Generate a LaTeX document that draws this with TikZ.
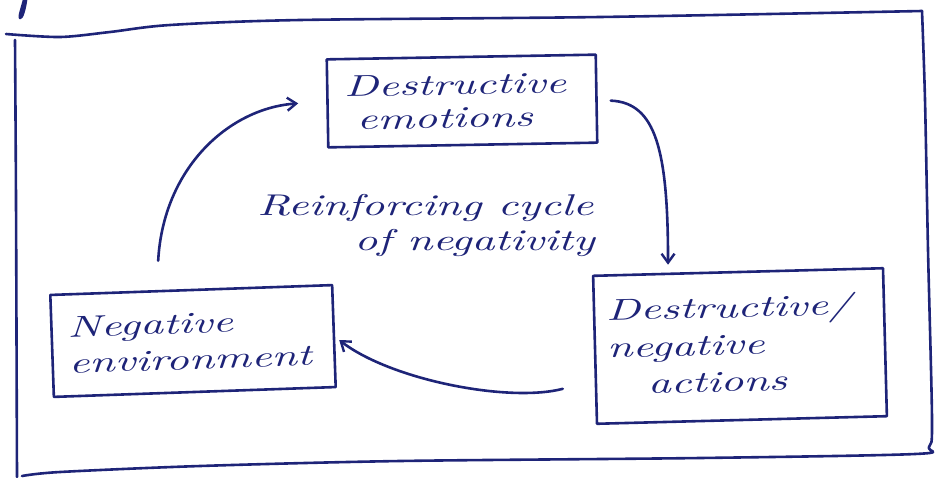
\documentclass[tikz,border=0pt]{standalone}
\usepackage{fontspec}
\newfontfamily\hand{lmroman10-italic}[Extension=.otf, FakeStretch=1.5]
\usetikzlibrary{arrows.meta,calc}
\definecolor{ink}{RGB}{30,36,120}
\tikzset{
  pen/.style={draw=ink, line width=2.6pt, line cap=round, line join=round},
  box/.style={pen, align=left, text=ink, inner sep=0pt,
    font=\hand\fontsize{30}{33}\selectfont},
  txt/.style={align=left, text=ink, inner sep=0pt,
    font=\hand\fontsize{30}{35}\selectfont},
  arr/.style={pen, -{Straight Barb[length=9pt,width=13pt,line width=2.4pt]}}
}
\begin{document}
\begin{tikzpicture}[x=1pt,y=-1pt]
\useasboundingbox (0,0) rectangle (936,477);
% outer frame
\draw[pen] plot[smooth] coordinates {(6,34) (60,37) (110,32) (170,25) (300,20) (600,17) (922,11)};
\draw[pen] plot[smooth] coordinates {(922,11) (925,100) (928,250) (932,420) (929,447) (915,454) (700,458) (400,461) (200,466) (60,472) (22,476)};
\draw[pen] plot[smooth] coordinates {(15,40) (16,200) (17,477)};
\draw[pen] (24,0) .. controls (22,8) and (19,16) .. (20,18) .. controls (22,19) and (25,8) .. (26,0);
% boxes
\node[box, minimum width=269pt, minimum height=88pt, text width=235pt, rotate=1] (emo) at (462,101)
  {Destructive\\\hspace*{12pt}emotions};
\node[box, minimum width=282pt, minimum height=102pt, text width=250pt, rotate=2,
  font=\hand\fontsize{30}{36}\selectfont] (neg) at (193,341)
  {Negative\\environment};
\node[box, minimum width=290pt, minimum height=148pt, text width=266pt, rotate=1.5,
  font=\hand\fontsize{30}{37}\selectfont] (act) at (740,346)
  {Destructive/\\negative\\\hspace*{40pt}actions\vphantom{p}};
% centre text
\node[txt] (cyc) at (426,225) {Reinforcing cycle\\\hspace*{97pt}of negativity};
% arrows
\draw[arr] ($(neg.north)+(-33,-28)$) .. controls +(5,-92) and +(-70,5) .. ($(emo.west)+(-28,0)$);
\draw[arr] ($(emo.east)+(13,2)$) .. controls +(45,2) and +(0,-115) .. ($(act.north)+(-70,-6)$);
\draw[arr] ($(act.west)+(-31,39)$) .. controls +(-54,14) and +(52,40) .. ($(neg.east)+(4,4)$);
\end{tikzpicture}
\end{document}
